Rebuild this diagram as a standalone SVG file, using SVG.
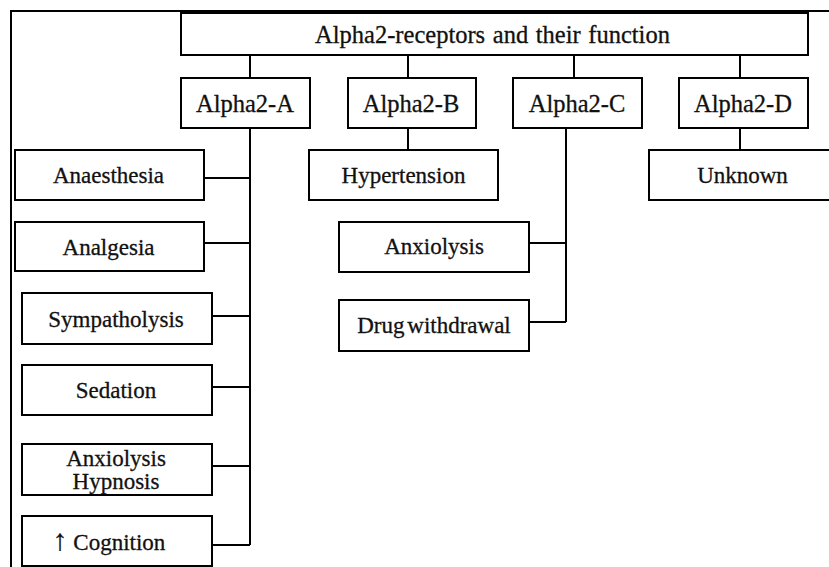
<svg xmlns="http://www.w3.org/2000/svg" width="829" height="567" viewBox="0 0 829 567">
<style>
.box{fill:#fff;stroke:#000;stroke-width:2}
.c{fill:none;stroke:#000;stroke-width:2}
.frame{fill:none;stroke:#000;stroke-width:2}
text{font-family:'Liberation Serif','Times New Roman',serif;font-size:23px;fill:#111;stroke:#111;stroke-width:0.3px;text-anchor:middle}
.big{font-size:24.5px}
</style>
<rect width="829" height="567" fill="#fff"/>
<path class="frame" d="M11,567 V11 H829"/>
<g id="connectors">
<path class="c" d="M250,55 V78 M408,55 V78 M574,55 V78 M740,55 V78"/>
<path class="c" d="M250,128 V545 M204,178 H250 M204,243 H250 M212,316 H250 M212,387 H250 M212,466 H250 M212,545 H250"/>
<path class="c" d="M408,128 V150"/>
<path class="c" d="M566,128 V322 M529,243 H566 M529,322 H566"/>
<path class="c" d="M740,128 V150"/>
</g>
<g id="title"><rect class="box" x="181" y="13" width="627" height="42"/><text class="big" x="492.5" y="43" style="word-spacing:1.5px">Alpha2-receptors and their function</text></g>
<g id="alpha2a"><rect class="box" x="181" y="78" width="129" height="50"/><text class="big" x="245" y="112">Alpha2-A</text></g>
<g id="alpha2b"><rect class="box" x="348" y="78" width="128" height="50"/><text class="big" x="411" y="112">Alpha2-B</text></g>
<g id="alpha2c"><rect class="box" x="513" y="78" width="129" height="50"/><text class="big" x="577" y="112">Alpha2-C</text></g>
<g id="alpha2d"><rect class="box" x="679" y="78" width="129" height="50"/><text class="big" x="743" y="112">Alpha2-D</text></g>
<g id="anaesthesia"><rect class="box" x="15" y="150" width="189" height="50"/><text x="108.5" y="183">Anaesthesia</text></g>
<g id="analgesia"><rect class="box" x="15" y="222" width="189" height="49"/><text x="108.5" y="255">Analgesia</text></g>
<g id="sympatholysis"><rect class="box" x="22" y="293" width="190" height="51"/><text x="116" y="327">Sympatholysis</text></g>
<g id="sedation"><rect class="box" x="22" y="365" width="190" height="50"/><text x="116" y="398">Sedation</text></g>
<g id="anxhyp"><rect class="box" x="22" y="444" width="190" height="51"/><text x="116" y="466">Anxiolysis</text><text x="116" y="489">Hypnosis</text></g>
<g id="cognition"><rect class="box" x="22" y="516" width="190" height="50"/><text x="109" y="550"><tspan style="font-size:30px">↑</tspan> Cognition</text></g>
<g id="hypertension"><rect class="box" x="309" y="150" width="189" height="50"/><text x="403.5" y="183">Hypertension</text></g>
<g id="anxiolysis"><rect class="box" x="339" y="222" width="190" height="50"/><text x="434" y="254">Anxiolysis</text></g>
<g id="drugwithdrawal"><rect class="box" x="339" y="300" width="190" height="51"/><text x="434" y="333" style="word-spacing:-3px">Drug withdrawal</text></g>
<g id="unknown"><rect class="box" x="649" y="150" width="190" height="50"/><text x="742.5" y="183">Unknown</text></g>
</svg>
